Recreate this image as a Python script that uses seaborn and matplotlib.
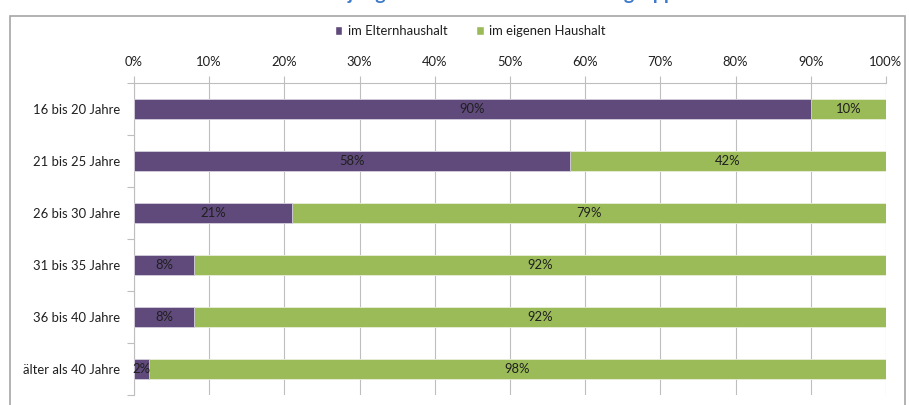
import matplotlib
matplotlib.use("Agg")
import matplotlib.pyplot as plt
from matplotlib.patches import Rectangle, Patch
from matplotlib.ticker import FixedLocator
import seaborn as sns
import pandas as pd

# Wohnsituation nach Altersgruppe (Anteile in Prozent)
categories = ["16 bis 20 Jahre", "21 bis 25 Jahre", "26 bis 30 Jahre",
              "31 bis 35 Jahre", "36 bis 40 Jahre", "älter als 40 Jahre"]
elternhaushalt = [90, 58, 21, 8, 8, 2]
eigener_haushalt = [10, 42, 79, 92, 92, 98]
x_ticks = [0, 10, 20, 30, 40, 50, 60, 70, 80, 90, 100]
series_names = ["im Elternhaushalt", "im eigenen Haushalt"]
title = "Wohnsituation junger Erwachsener nach Altersgruppen"

purple = "#5F4A7B"
green = "#9BBB59"
grid_col = "#BEBEBE"
text_col = "#1F1F1F"
fs = 9.4

sns.set_theme(style="white")
plt.rcParams["font.family"] = ["Lato", "DejaVu Sans"]

df = pd.DataFrame({
    "Altersgruppe": categories,
    "eltern": elternhaushalt,
    "eigen": eigener_haushalt,
})
df["gesamt"] = df["eltern"] + df["eigen"]

W, H = 909, 405
fig = plt.figure(figsize=(W / 100, H / 100), dpi=100)
ax = fig.add_axes([134 / W, 1 - 395 / H, (886 - 134) / W, (395 - 83) / H])

bar_h = 0.38
sns.barplot(data=df, y="Altersgruppe", x="gesamt", orient="h", color=green,
            saturation=1, width=bar_h, ax=ax, edgecolor="#E8EEDC", linewidth=0.6, zorder=3)
sns.barplot(data=df, y="Altersgruppe", x="eltern", orient="h", color=purple,
            saturation=1, width=bar_h, ax=ax, edgecolor="#D8D0E2", linewidth=0.6, zorder=4)

# value labels in the middle of each segment
for i, (p, g) in enumerate(zip(df["eltern"], df["eigen"])):
    ax.text(p / 2, i, f"{p}%", ha="center", va="center", fontsize=fs,
            color=text_col, zorder=5)
    ax.text(p + g / 2, i, f"{g}%", ha="center", va="center", fontsize=fs,
            color=text_col, zorder=5)

ax.set_xlim(0, 100)
ax.set_ylim(len(categories) - 0.5, -0.5)
ax.set_xlabel("")
ax.set_ylabel("")

ax.xaxis.tick_top()
ax.set_xticks(x_ticks)
ax.set_xticklabels([f"{t}%" for t in x_ticks])
ax.tick_params(axis="x", which="major", top=True, bottom=False, direction="out",
               length=5, width=0.8, color=grid_col, labelsize=fs,
               labelcolor=text_col, pad=6)
ax.grid(axis="x", color=grid_col, linewidth=0.8, zorder=0)
ax.grid(axis="y", visible=False)

ax.yaxis.set_minor_locator(FixedLocator([k - 0.5 for k in range(len(categories) + 1)]))
ax.tick_params(axis="y", which="major", left=False, length=0, labelsize=fs,
               labelcolor=text_col, pad=10)
ax.tick_params(axis="y", which="minor", left=True, direction="out",
               length=5, width=0.8, color=grid_col)

for side in ["right", "bottom"]:
    ax.spines[side].set_visible(False)
for side in ["left", "top"]:
    ax.spines[side].set_color(grid_col)
    ax.spines[side].set_linewidth(0.8)

# legend above the plot
handles = [Patch(facecolor=purple, label=series_names[0]),
           Patch(facecolor=green, label=series_names[1])]
fig.legend(handles=handles, loc="center", bbox_to_anchor=(470 / W, 1 - 31 / H),
           ncol=2, frameon=False, fontsize=fs, handlelength=0.6, handleheight=0.6,
           handletextpad=0.4, columnspacing=2.2, labelcolor=text_col)

# chart frame
fig.patches.append(Rectangle((10 / W, -0.05), (905 - 10) / W, 1.05 - 16 / H,
                             transform=fig.transFigure, fill=False,
                             edgecolor="#A6A6A6", linewidth=1.2))

# title runs off the top edge of the figure
fig.text(455 / W, 1.0, title, ha="center", va="baseline",
         fontsize=14, fontweight="bold", color="#3E7ACB")

fig.savefig("out.png", dpi=100)
